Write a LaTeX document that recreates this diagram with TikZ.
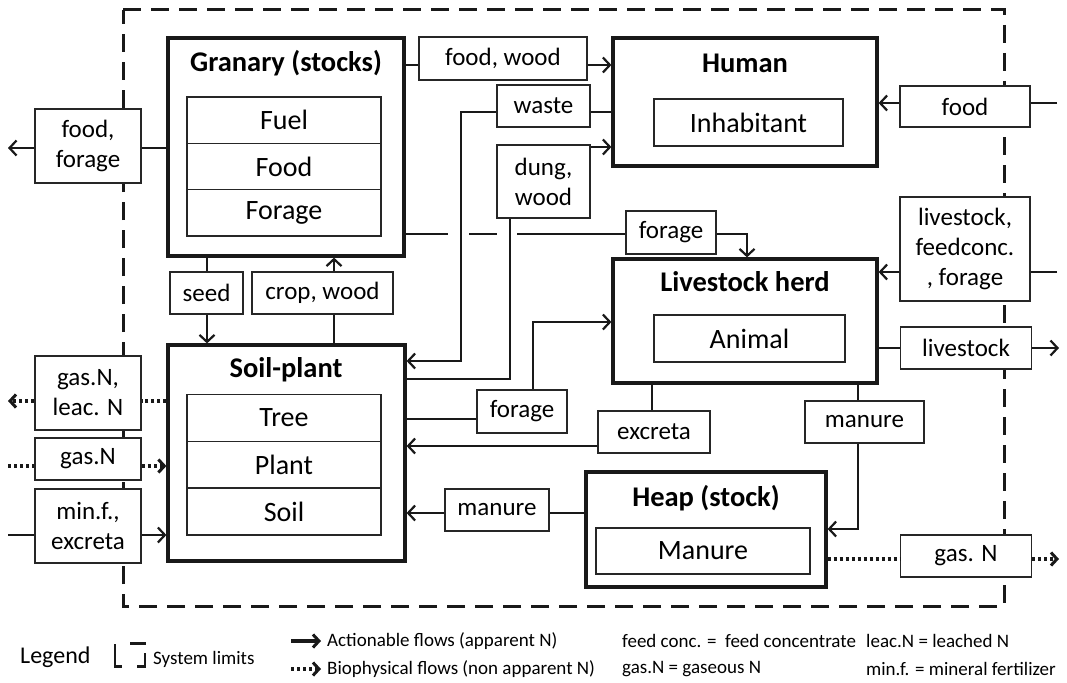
\documentclass[tikz,border=0pt]{standalone}
\usepackage{fontspec}
\setmainfont{Carlito}
\usetikzlibrary{arrows.meta}
\pgfdeclarelayer{bg}
\pgfsetlayers{bg,main}
\begin{document}
\begin{tikzpicture}[x=1pt,y=-1pt,
  bigbox/.style={draw=black!90, line width=3.2pt, fill=white, inner sep=0pt},
  rowbox/.style={draw=black!85, line width=1.6pt, fill=white, inner sep=0pt, font=\fontsize{28}{30}\selectfont},
  lab/.style={draw=black!85, line width=1.6pt, fill=white, inner sep=0pt, align=center, font=\fontsize{25}{30}\selectfont},
  ttl/.style={font=\bfseries\fontsize{28.5}{30}\selectfont, inner sep=0pt},
  conn/.style={draw=black!90, line width=2.2pt},
  flow/.style={conn, -{Straight Barb[length=7pt,width=15pt]}},
  bio/.style={draw=black!90, line width=4pt, dash pattern=on 3pt off 3pt},
  bioarrow/.style={bio, -{Straight Barb[length=6pt,width=13pt,line width=3pt]}},
  legtxt/.style={anchor=west, inner sep=0pt, font=\fontsize{19}{21}\selectfont},
  sysline/.style={draw=black!90, line width=3pt, dash pattern=on 18pt off 10pt}
]
\useasboundingbox (0,0) rectangle (1067,682);

% ---------- main boxes ----------
\node[bigbox, minimum width=236pt, minimum height=218pt] (gran) at (286,147) {};
\node[ttl] (granT) at (286,63) {Granary (stocks)};
\node[rowbox, minimum width=194pt, minimum height=46.3pt] (fuel) at (284,120.2) {Fuel};
\node[rowbox, minimum width=194pt, minimum height=46.3pt] (food) at (284,166.5) {Food};
\node[rowbox, minimum width=194pt, minimum height=46.3pt] (forg) at (284,212.8) {Forage};

\node[bigbox, minimum width=264pt, minimum height=128pt] (hum) at (745,102) {};
\node[ttl] (humT) at (745,63) {Human};
\node[rowbox, minimum width=189pt, minimum height=47pt] (inh) at (748.5,122.5) {Inhabitant};

\node[bigbox, minimum width=264pt, minimum height=124pt] (liv) at (745,321) {};
\node[ttl] (livT) at (745,282) {Livestock herd};
\node[rowbox, minimum width=191pt, minimum height=47pt] (ani) at (749.5,338.5) {Animal};

\node[bigbox, minimum width=237pt, minimum height=216pt] (soil) at (286.5,453) {};
\node[ttl] (soilT) at (286,370) {Soil-plant};
\node[rowbox, minimum width=194pt, minimum height=46.7pt] (tree) at (284,418) {Tree};
\node[rowbox, minimum width=194pt, minimum height=46.7pt] (plant) at (284,464.7) {Plant};
\node[rowbox, minimum width=194pt, minimum height=46.7pt] (soilr) at (284,511.4) {Soil};

\node[bigbox, minimum width=240pt, minimum height=115pt] (heap) at (706,529.5) {};
\node[ttl] (heapT) at (706,498) {Heap (stock)};
\node[rowbox, minimum width=214pt, minimum height=46pt] (man) at (703,551) {Manure};

% ---------- label boxes ----------
\node[lab, minimum width=106pt, minimum height=74pt] (ff) at (88,146) {food,\\forage};
\node[lab, minimum width=106pt, minimum height=74pt] (gl) at (88,393) {gas.N,\\leac. N};
\node[lab, minimum width=106pt, minimum height=42pt] (gN) at (88,459) {gas.N};
\node[lab, minimum width=106pt, minimum height=74pt] (mf) at (88,526) {min.f.,\\excreta};
\node[lab, minimum width=73pt, minimum height=42pt] (seed) at (206.5,293) {seed};
\node[lab, minimum width=141pt, minimum height=42pt] (cw) at (322.5,293) {crop, wood};
\node[lab, minimum width=168pt, minimum height=43pt] (fw) at (503,58.5) {food, wood};
\node[lab, minimum width=93pt, minimum height=42pt] (ws) at (543.5,106) {waste};
\node[lab, minimum width=93pt, minimum height=73pt] (dw) at (543.5,181.5) {dung,\\wood};
\node[lab, minimum width=90pt, minimum height=43pt] (fT) at (671,232.5) {forage};
\node[lab, minimum width=130pt, minimum height=41pt] (fR) at (965,106.5) {food};
\node[lab, minimum width=130pt, minimum height=104pt] (lfc) at (965,249) {livestock,\\feedconc.\\, forage};
\node[lab, minimum width=131pt, minimum height=42pt] (lvR) at (966,348) {livestock};
\node[lab, minimum width=90pt, minimum height=43pt] (fL) at (522,411.5) {forage};
\node[lab, minimum width=112pt, minimum height=42pt] (ex) at (654,432) {excreta};
\node[lab, minimum width=119pt, minimum height=42pt] (mR) at (864.5,422) {manure};
\node[lab, minimum width=104pt, minimum height=42pt] (mL) at (497,510) {manure};
\node[lab, minimum width=131pt, minimum height=42pt] (gR) at (966,556) {gas. N};

% ---------- free ends ----------
\coordinate (outFF) at (8,148);
\coordinate (outGL) at (8,401);
\coordinate (inGas) at (8,466);
\coordinate (inMin) at (8,535);
\coordinate (inFood) at (1057,103);
\coordinate (inLFC) at (1057,272);
\coordinate (outLv) at (1059,348);
\coordinate (outGas) at (1059,559);

% ---------- system limits ----------
\begin{pgfonlayer}{bg}
\draw[sysline] (123,10) -- (1004,10) -- (1004,606) -- (123,606) -- cycle;
\end{pgfonlayer}

% ---------- connectors ----------
% granary -> food, forage -> out
\draw[conn] (gran.west |- 0,148) -- (ff.east |- 0,148);
\draw[flow] (ff.west |- 0,148) -- (outFF);
% granary -> food, wood -> human
\draw[conn] (gran.east |- 0,65) -- (fw.west |- 0,65);
\draw[flow] (fw.east |- 0,65) -- (hum.west |- 0,65);
% human -> waste -> soil-plant
\draw[conn] (hum.west |- 0,112) -- (ws.east |- 0,112);
\draw[flow] (ws.west |- 0,112) -- (461,112) -- (461,361) -- (soil.east |- 0,361);
% soil-plant -> dung, wood -> human
\draw[conn] (soil.east |- 0,379) -- (510,379) -- (dw.south -| 510,0);
\draw[flow] (dw.east |- 0,147) -- (hum.west |- 0,147);
% granary -> forage -> livestock (with line jumps)
\draw[conn] (gran.east |- 0,234) -- (448,234);
\draw[conn] (469,234) -- (497,234);
\draw[conn] (517,234) -- (fT.west |- 0,234);
\draw[flow] (fT.east |- 0,234) -- (747,234) -- (liv.north -| 747,0);
% outside food -> human
\draw[conn] (inFood) -- (fR.east |- 0,103);
\draw[flow] (fR.west |- 0,103) -- (hum.east |- 0,103);
% outside livestock, feedconc., forage -> livestock
\draw[conn] (inLFC) -- (lfc.east |- 0,272);
\draw[flow] (lfc.west |- 0,272) -- (liv.east |- 0,272);
% livestock -> out
\draw[conn] (liv.east |- 0,348) -- (lvR.west |- 0,348);
\draw[flow] (lvR.east |- 0,348) -- (outLv);
% seed
\draw[conn] (gran.south -| 207,0) -- (seed.north -| 207,0);
\draw[flow] (seed.south -| 207,0) -- (soil.north -| 207,0);
% crop, wood
\draw[conn] (soil.north -| 334,0) -- (cw.south -| 334,0);
\draw[flow] (cw.north -| 334,0) -- (gran.south -| 334,0);
% soil-plant -> forage -> livestock
\draw[conn] (soil.east |- 0,419) -- (fL.west |- 0,419);
\draw[flow] (fL.north -| 533,0) -- (533,322) -- (liv.west |- 0,322);
% livestock -> excreta -> soil-plant
\draw[conn] (liv.south -| 652,0) -- (ex.north -| 652,0);
\draw[flow] (ex.west |- 0,446) -- (soil.east |- 0,446);
% livestock -> manure -> heap
\draw[conn] (liv.south -| 858,0) -- (mR.north -| 858,0);
\draw[flow] (mR.south -| 858,0) -- (858,529) -- (heap.east |- 0,529);
% heap -> manure -> soil-plant
\draw[conn] (heap.west |- 0,513) -- (mL.east |- 0,513);
\draw[flow] (mL.west |- 0,513) -- (soil.east |- 0,513);
% heap -> gas. N -> out
\draw[bio] (heap.east |- 0,559) -- (gR.west |- 0,559);
\draw[bioarrow] (gR.east |- 0,559) -- (outGas);
% soil-plant -> gas.N, leac. N -> out
\draw[bio] (soil.west |- 0,401) -- (gl.east |- 0,401);
\draw[bioarrow] (gl.west |- 0,401) -- (outGL);
% gas.N in
\draw[bio] (inGas) -- (gN.west |- 0,466);
\draw[bioarrow] (gN.east |- 0,466) -- (soil.west |- 0,466);
% min.f., excreta in
\draw[conn] (inMin) -- (mf.west |- 0,535);
\draw[flow] (mf.east |- 0,535) -- (soil.west |- 0,535);

% ---------- legend ----------
\node[anchor=west, inner sep=0pt, font=\fontsize{24}{26}\selectfont] (legT) at (20,657) {Legend};
\draw[draw=black!90, line width=2.5pt] (115,644) -- (115,666.5) -- (122,666.5);
\draw[draw=black!90, line width=2.5pt] (130,643.5) -- (146,643.5);
\draw[draw=black!90, line width=2.5pt] (145,653) -- (145,666.5) -- (137,666.5);
\node[legtxt] (legSys) at (153,659) {System limits};
\coordinate (la1) at (291,641);
\coordinate (la2) at (321,641);
\coordinate (lb1) at (291,669);
\coordinate (lb2) at (321,669);
\draw[draw=black!90, line width=3.5pt, -{Straight Barb[length=6pt,width=13pt,line width=3pt]}] (la1) -- (la2);
\draw[bioarrow] (lb1) -- (lb2);
\node[legtxt] (legA) at (327,641) {Actionable flows (apparent N)};
\node[legtxt] (legB) at (327,669) {Biophysical flows (non apparent N)};
\node[legtxt] (legC) at (622,641) {feed conc. = \ feed concentrate};
\node[legtxt] (legD) at (622,669) {gas.N = gaseous N};
\node[legtxt] (legE) at (866,641) {leac.N = leached N};
\node[legtxt] (legF) at (866,669) {min.f. = mineral fertilizer};
\end{tikzpicture}
\end{document}
